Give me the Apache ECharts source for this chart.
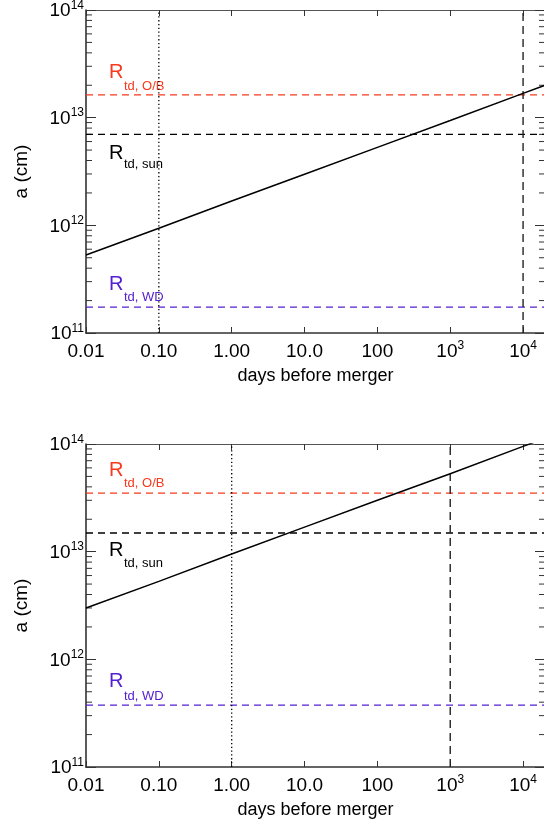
<!DOCTYPE html>
<html>
<head>
<meta charset="utf-8">
<script src="https://cdn.jsdelivr.net/npm/echarts@6/dist/echarts.min.js"></script>
<style>
  html, body { margin: 0; padding: 0; background: #fff; }
  #main { width: 544px; height: 824px; }
</style>
</head>
<body>
<div id="main"></div>
<script>
// days before merger, and separation a (cm)
var days = [0.01, 0.1, 1, 10, 100, 1000, 10000, 20000];
var aTop = [5.3e11, 9.4e11, 1.68e12, 2.98e12, 5.3e12, 9.4e12, 1.68e13, 2.0e13];
var aBottom = [3.0e12, 5.3e12, 9.5e12, 1.69e13, 3.0e13, 5.3e13, 9.5e13, 1.13e14];

// tidal disruption radii: O/B, sun, WD
var rtdNames = ['td, O/B', 'td, sun', 'td, WD'];
var rtdTop = [1.63e13, 7.0e12, 1.74e11];
var rtdBottom = [3.5e13, 1.49e13, 3.76e11];

// vertical markers (dotted, dashed) per panel
var dottedDay = [0.1, 1];
var dashedDay = [1e4, 1e3];

// tick labels
var xTickText = ['0.01', '0.10', '1.00', '10.0', '100', '10', '10'];
var xTickSup = ['', '', '', '', '', '3', '4'];
var yTickSup = ['11', '12', '13', '14'];
var minorMant = [2, 3, 4, 5, 6, 7, 8, 9];
var minorDec = [1e11, 1e12, 1e13];

var XMIN = 0.01, XMAX = 2e4, YMIN = 1e11, YMAX = 1e14;
var FONT = 'Liberation Sans, Arial, Helvetica, sans-serif';
var RED = '#f8391c', BLUE = '#5420d2';
var rtdColors = [RED, '#000', BLUE];

var minorTicks = [];
minorDec.forEach(function (d) {
    minorMant.forEach(function (m) { minorTicks.push([1, m * d]); });
});

var rich = {
    b: { fontSize: 19, fontFamily: FONT, color: '#000', lineHeight: 21, verticalAlign: 'bottom' },
    s: { fontSize: 12, fontFamily: FONT, color: '#000', verticalAlign: 'top' }
};

function xFmt(v) {
    var i = Math.round(Math.log10(v)) + 2;
    if (i < 0 || i >= xTickText.length) return '';
    return xTickSup[i] ? '{b|' + xTickText[i] + '}{s|' + xTickSup[i] + '}' : '{b|' + xTickText[i] + '}';
}
function yFmt(v) {
    var i = Math.round(Math.log10(v)) - 11;
    return '{b|10}{s|' + yTickSup[i] + '}';
}

var grids = [], xAxes = [], yAxes = [], series = [], graphics = [];

function panel(p, top, a, rtd, dotted, dashed, labelY) {
    grids.push({ left: 86, top: top, width: 459, height: 323, outerBoundsMode: 'none' });
    var axLine = { show: true, lineStyle: { color: '#333', width: 1.6 } };
    xAxes.push({
        type: 'log', logBase: 10, gridIndex: p, min: XMIN, max: XMAX, position: 'bottom',
        name: 'days before merger', nameLocation: 'middle', nameGap: 34,
        nameTextStyle: { fontSize: 18, fontFamily: FONT, color: '#000' },
        axisLine: axLine,
        axisTick: { show: true, inside: true, length: 6, lineStyle: { color: '#333' } },
        axisLabel: { formatter: xFmt, rich: rich, margin: 7, showMaxLabel: false, hideOverlap: false },
        splitLine: { show: false }
    });
    xAxes.push({
        type: 'log', logBase: 10, gridIndex: p, min: XMIN, max: XMAX, position: 'top',
        axisLine: { show: true, lineStyle: { color: '#555', width: 1.2 } },
        axisTick: { show: true, inside: true, length: 6, lineStyle: { color: '#333' } },
        axisLabel: { show: false }, splitLine: { show: false }
    });
    yAxes.push({
        type: 'log', logBase: 10, gridIndex: p, min: YMIN, max: YMAX, position: 'left',
        name: 'a (cm)', nameLocation: 'middle', nameGap: 55,
        nameTextStyle: { fontSize: 19, fontFamily: FONT, color: '#000' },
        axisLine: axLine,
        axisTick: { show: true, inside: true, length: 10, lineStyle: { color: '#333' } },
        axisLabel: { formatter: yFmt, rich: rich, margin: 2 },
        splitLine: { show: false }
    });
    yAxes.push({
        type: 'log', logBase: 10, gridIndex: p, min: YMIN, max: YMAX, position: 'right',
        axisLine: { show: true, lineStyle: { color: '#333', width: 1.2 } },
        axisTick: { show: true, inside: true, length: 10, lineStyle: { color: '#333' } },
        axisLabel: { show: false }, splitLine: { show: false }
    });
    var xi = p * 2, yi = p * 2;
    var pts = days.map(function (d, k) { return [d, a[k]]; });
    series.push({
        type: 'line', xAxisIndex: xi, yAxisIndex: yi, data: pts, symbol: 'none', silent: true,
        clip: true, lineStyle: { color: '#000', width: 1.5 }, z: 5
    });
    rtd.forEach(function (v, k) {
        series.push({
            type: 'line', xAxisIndex: xi, yAxisIndex: yi, data: [[XMIN, v], [XMAX, v]],
            symbol: 'none', silent: true,
            lineStyle: { color: rtdColors[k], width: 1.3, type: [7, 5] }
        });
    });
    series.push({
        type: 'line', xAxisIndex: xi, yAxisIndex: yi, data: [[dotted, YMIN], [dotted, YMAX]],
        symbol: 'none', silent: true, lineStyle: { color: '#000', width: 1.3, type: [1.3, 2.5] }
    });
    series.push({
        type: 'line', xAxisIndex: xi, yAxisIndex: yi, data: [[dashed, YMIN], [dashed, YMAX]],
        symbol: 'none', silent: true, lineStyle: { color: '#222', width: 1.4, type: [8, 5] }
    });
    // minor ticks on the left and right y axes
    series.push({
        type: 'custom', xAxisIndex: xi, yAxisIndex: yi, data: minorTicks, silent: true,
        encode: { x: 0, y: 1 },
        renderItem: function (params, api) {
            var cs = params.coordSys;
            var y = api.coord([api.value(0), api.value(1)])[1];
            return {
                type: 'group',
                children: [
                    { type: 'line', shape: { x1: cs.x, y1: y, x2: cs.x + 6, y2: y }, style: { stroke: '#333', lineWidth: 1 } },
                    { type: 'line', shape: { x1: cs.x + cs.width - 6, y1: y, x2: cs.x + cs.width, y2: y }, style: { stroke: '#333', lineWidth: 1 } }
                ]
            };
        }
    });
    // R_td labels
    labelY.forEach(function (ly, k) {
        graphics.push({
            type: 'text', left: 109, top: ly[0],
            style: { text: 'R', fill: rtdColors[k], font: '20px ' + FONT }
        });
        graphics.push({
            type: 'text', left: 124, top: ly[1],
            style: { text: rtdNames[k], fill: rtdColors[k], font: '13px ' + FONT }
        });
    });
}

panel(0, 10, aTop, rtdTop, dottedDay[0], dashedDay[0], [[62, 80], [143, 158], [274, 291]]);
panel(1, 444, aBottom, rtdBottom, dottedDay[1], dashedDay[1], [[460, 477], [540, 557], [671, 690]]);

var chart = echarts.init(document.getElementById('main'), null, { renderer: 'canvas' });
chart.setOption({
    backgroundColor: '#fff',
    animation: false,
    textStyle: { fontFamily: FONT },
    grid: grids,
    xAxis: xAxes,
    yAxis: yAxes,
    series: series,
    graphic: graphics
});
</script>
</body>
</html>
